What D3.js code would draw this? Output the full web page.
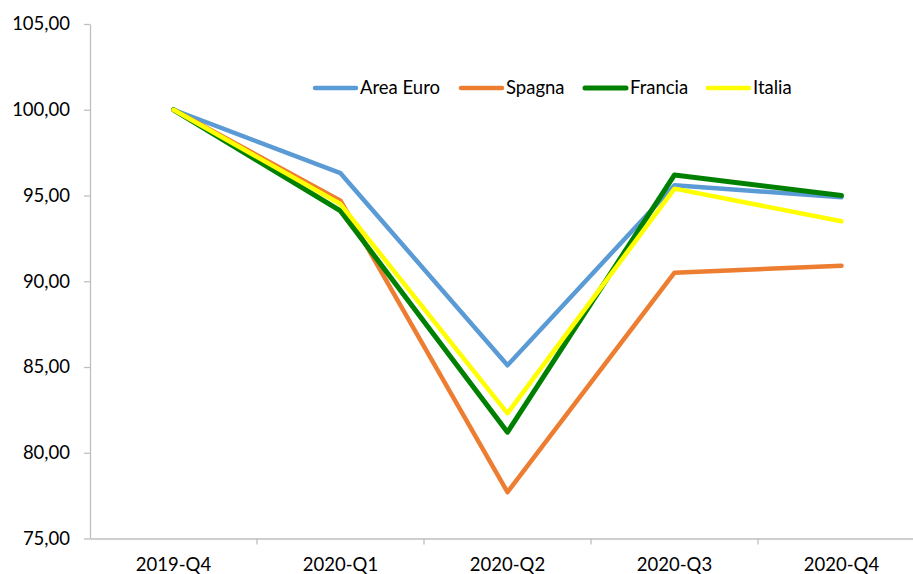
<!DOCTYPE html>
<html lang="it">
<head>
<meta charset="UTF-8">
<script src="https://d3js.org/d3.v7.min.js"></script>
<style>
  body { margin: 0; background: #fff; }
  text { font-family: Lato, "Open Sans", sans-serif; fill: #000; }
</style>
</head>
<body>
<svg width="913" height="574"></svg>
<script>
// categories and series
let quarters = ["2019-Q4", "2020-Q1", "2020-Q2", "2020-Q3", "2020-Q4"];
let areaEuro = [100, 96.3, 85.1, 95.6, 94.9];
let spagna = [100, 94.7, 77.7, 90.5, 90.9];
let francia = [100, 94.1, 81.2, 96.2, 95.0];
let italia = [100, 94.5, 82.3, 95.4, 93.5];
let yTicks = [75, 80, 85, 90, 95, 100, 105];

let series = [
  { name: "Area Euro", values: areaEuro, color: "#5B9BD5", width: 4.5 },
  { name: "Spagna", values: spagna, color: "#ED7D31", width: 4.5 },
  { name: "Francia", values: francia, color: "#008000", width: 5 },
  { name: "Italia", values: italia, color: "#FFFF00", width: 4.5 }
];

let svg = d3.select("svg");

let x = d3.scaleBand().domain(quarters).range([90, 925]);
let y = d3.scaleLinear().domain([75, 105]).range([538.5, 24]);

let fmt = v => d3.format(".2f")(v).replace(".", ",");

// y axis
let yAxis = svg.append("g")
  .attr("transform", "translate(90,0)")
  .call(d3.axisLeft(y).tickValues(yTicks).tickFormat(fmt).tickSize(6).tickSizeOuter(0));
yAxis.select(".domain").attr("stroke", "#bfbfbf").attr("stroke-width", 1.3);
yAxis.selectAll(".tick line").attr("stroke", "#bfbfbf").attr("stroke-width", 1.3);
yAxis.selectAll(".tick text")
  .attr("x", -20)
  .attr("font-size", 18.5)
  .style("font-family", "Lato, sans-serif");

// x axis
let xAxis = svg.append("g")
  .attr("transform", "translate(0,538.5)")
  .call(d3.axisBottom(x).tickSize(0).tickSizeOuter(0));
xAxis.select(".domain").attr("stroke", "#bfbfbf").attr("stroke-width", 1.3);
xAxis.selectAll(".tick text")
  .attr("y", 19)
  .attr("font-size", 18.5)
  .style("font-family", "Lato, sans-serif");
// category separators
xAxis.selectAll(".sep")
  .data(quarters.slice(1))
  .enter().append("line")
  .attr("x1", d => x(d)).attr("x2", d => x(d))
  .attr("y1", 0).attr("y2", 6)
  .attr("stroke", "#bfbfbf").attr("stroke-width", 1.3);

// lines
let line = d3.line()
  .x((d, i) => x(quarters[i]) + x.bandwidth() / 2)
  .y(d => y(d));

svg.selectAll(".series")
  .data(series)
  .enter().append("path")
  .attr("class", "series")
  .attr("d", d => line(d.values))
  .attr("fill", "none")
  .attr("stroke", d => d.color)
  .attr("stroke-width", d => d.width)
  .attr("stroke-linecap", "round")
  .attr("stroke-linejoin", "round");

// legend
let legendX = [313, 459, 583, 706];
let legend = svg.selectAll(".legend")
  .data(series)
  .enter().append("g")
  .attr("class", "legend")
  .attr("transform", (d, i) => "translate(" + legendX[i] + ",88)");
legend.append("line")
  .attr("x1", 2).attr("x2", 43)
  .attr("stroke", d => d.color)
  .attr("stroke-width", d => d.width)
  .attr("stroke-linecap", "round");
legend.append("text")
  .attr("x", 47)
  .attr("dy", "0.35em")
  .attr("font-size", 18.5)
  .text(d => d.name);
</script>
</body>
</html>
